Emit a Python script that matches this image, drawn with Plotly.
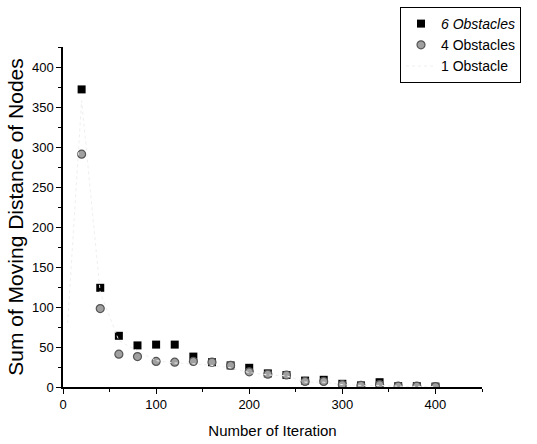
import plotly.graph_objects as go

iterations = [20, 40, 60, 80, 100, 120, 140, 160, 180, 200, 220, 240, 260, 280, 300, 320, 340, 360, 380, 400]
obs6 = [372, 124, 64, 52, 53, 53, 38, 31, 27, 24, 17, 15, 8, 9, 4, 2, 6, 1, 1, 0.5]
obs4 = [291, 98, 41, 38, 32, 31, 32, 31, 27, 19, 16, 15, 7, 7, 3, 2, 3, 1, 1, 0.5]
obs1_x = [5, 10, 20, 40, 60, 80, 100, 120, 140, 160, 180, 200, 220, 240, 260, 280, 300, 320, 340, 360, 380, 400]
obs1 = [80, 170, 358, 118, 58, 45, 33, 30, 29, 27, 24, 18, 15, 14, 6, 6, 3, 2, 2, 1, 1, 0.5]

x_ticks = [0, 100, 200, 300, 400]
y_ticks = [0, 50, 100, 150, 200, 250, 300, 350, 400]

font = "Liberation Sans, Arial, sans-serif"

fig = go.Figure()
fig.add_trace(go.Scatter(
    x=iterations, y=obs6, mode="markers", name="<i>6 Obstacles</i>",
    marker=dict(symbol="square", size=8, color="black", line=dict(width=0))))
fig.add_trace(go.Scatter(
    x=iterations, y=obs4, mode="markers", name="4 Obstacles",
    marker=dict(symbol="circle", size=8, color="#a0a0a0", line=dict(width=1.2, color="#555555"))))
fig.add_trace(go.Scatter(
    x=obs1_x, y=obs1, mode="lines", name="1 Obstacle",
    line=dict(color="#efefef", width=1, dash="dot")))

fig.update_layout(
    width=537, height=444,
    margin=dict(l=63, r=55, t=47, b=57, autoexpand=False),
    paper_bgcolor="white", plot_bgcolor="white",
    font=dict(family=font, size=12, color="black"),
    showlegend=True,
    legend=dict(x=400 / 537, y=1 - 7 / 444, xref="container", yref="container",
                xanchor="left", yanchor="top",
                bordercolor="black", borderwidth=1, bgcolor="white",
                font=dict(size=14), itemsizing="trace",
                tracegroupgap=0, traceorder="normal"),
    xaxis=dict(range=[0, 450], tickvals=x_ticks, ticktext=[str(v) for v in x_ticks],
               showline=True, linecolor="black", linewidth=1.5, mirror=False,
               ticks="outside", ticklen=5, tickcolor="black", showgrid=False, zeroline=False,
               minor=dict(ticks="outside", ticklen=3, dtick=50, tickcolor="black"),
               title=dict(text="Number of Iteration", font=dict(size=15), standoff=14),
               tickfont=dict(size=13)),
    yaxis=dict(range=[0, 425], tickvals=y_ticks,
               showline=True, linecolor="black", linewidth=1.5, mirror=False,
               ticks="outside", ticklen=5, tickcolor="black", showgrid=False, zeroline=False,
               minor=dict(ticks="outside", ticklen=3, dtick=25, tickcolor="black"),
               title=dict(text="Sum of Moving Distance of Nodes", font=dict(size=21), standoff=3),
               tickfont=dict(size=13)),
)

fig.write_html("out.html")
